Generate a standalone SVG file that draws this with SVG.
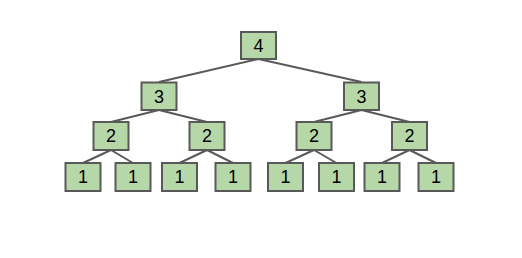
<svg xmlns="http://www.w3.org/2000/svg" width="522" height="258" viewBox="0 0 522 258">
<style>
.n rect{fill:#b6d7a8;stroke:#595959;stroke-width:2}
.n text{font-family:"Liberation Sans",Arial,sans-serif;font-size:18px;fill:#000;text-anchor:middle;dominant-baseline:central}
#edges line{stroke:#595959;stroke-width:2}
</style>
<rect width="522" height="258" fill="#fff"/>
<g id="edges">
<line x1="258.5" y1="59" x2="159" y2="82"/>
<line x1="258.5" y1="59" x2="361.5" y2="82"/>
<line x1="159" y1="110" x2="111" y2="122"/>
<line x1="159" y1="110" x2="207" y2="122"/>
<line x1="361.5" y1="110" x2="314" y2="122"/>
<line x1="361.5" y1="110" x2="409.5" y2="122"/>
<line x1="111" y1="150" x2="83" y2="163"/>
<line x1="111" y1="150" x2="133" y2="163"/>
<line x1="207" y1="150" x2="179.5" y2="163"/>
<line x1="207" y1="150" x2="233" y2="163"/>
<line x1="314" y1="150" x2="285.5" y2="163"/>
<line x1="314" y1="150" x2="336.5" y2="163"/>
<line x1="409.5" y1="150" x2="382" y2="163"/>
<line x1="409.5" y1="150" x2="436" y2="163"/>
</g>
<g id="n4" class="n"><rect x="241" y="32" width="35" height="27"/><text x="258.5" y="46">4</text></g>
<g id="n3a" class="n"><rect x="141.5" y="82.5" width="35" height="27.5"/><text x="159" y="96.5">3</text></g>
<g id="n3b" class="n"><rect x="344" y="82.5" width="35" height="27.5"/><text x="361.5" y="96.5">3</text></g>
<g id="n2a" class="n"><rect x="93.5" y="122" width="35" height="28"/><text x="111" y="136">2</text></g>
<g id="n2b" class="n"><rect x="189.5" y="122" width="35" height="28"/><text x="207" y="136">2</text></g>
<g id="n2c" class="n"><rect x="296.5" y="122" width="35" height="28"/><text x="314" y="136">2</text></g>
<g id="n2d" class="n"><rect x="392" y="122" width="35" height="28"/><text x="409.5" y="136">2</text></g>
<g id="n1a" class="n"><rect x="65.5" y="163" width="35" height="28"/><text x="83" y="177">1</text></g>
<g id="n1b" class="n"><rect x="115.5" y="163" width="35" height="28"/><text x="133" y="177">1</text></g>
<g id="n1c" class="n"><rect x="162" y="163" width="35" height="28"/><text x="179.5" y="177">1</text></g>
<g id="n1d" class="n"><rect x="215.5" y="163" width="35" height="28"/><text x="233" y="177">1</text></g>
<g id="n1e" class="n"><rect x="268" y="163" width="35" height="28"/><text x="285.5" y="177">1</text></g>
<g id="n1f" class="n"><rect x="319" y="163" width="35" height="28"/><text x="336.5" y="177">1</text></g>
<g id="n1g" class="n"><rect x="364.5" y="163" width="35" height="28"/><text x="382" y="177">1</text></g>
<g id="n1h" class="n"><rect x="418.5" y="163" width="35" height="28"/><text x="436" y="177">1</text></g>
</svg>
